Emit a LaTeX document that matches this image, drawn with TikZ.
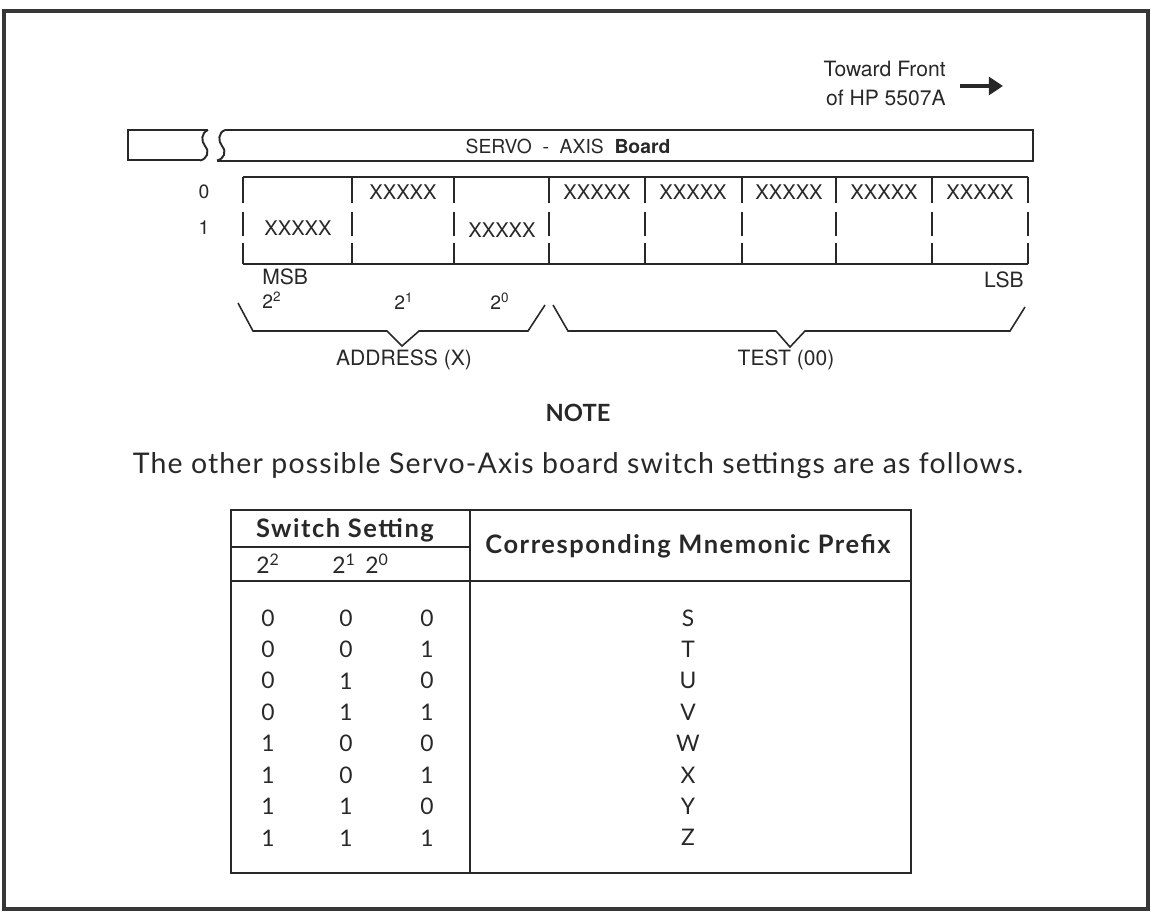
\documentclass[tikz,border=0pt]{standalone}
\usepackage{fontspec}
\setmainfont{Lato}
\setsansfont{TeX Gyre Heros}
\newfontfamily\widefont[LetterSpace=6]{Lato}
\newfontfamily\notefont[LetterSpace=4]{Lato}
\usetikzlibrary{arrows.meta}
\definecolor{inkgray}{RGB}{40,40,40}
\definecolor{framegray}{RGB}{55,55,55}

\begin{document}
\begin{tikzpicture}[x=0.02cm,y=-0.02cm,
  every node/.style={inner sep=0pt,text=inkgray},
  board/.style={draw=inkgray,line width=1.1pt},
  bracket/.style={draw=inkgray,line width=0.9pt},
  helv/.style={font=\sffamily\fontsize{11}{13}\selectfont},
  swtext/.style={font=\sffamily\fontsize{11.5}{13}\selectfont},
  tabtext/.style={font=\fontsize{13}{15}\selectfont},
  tabhead/.style={font=\widefont\bfseries\fontsize{14.5}{16}\selectfont}]
\useasboundingbox (0,0) rectangle (1151,912);
\draw[framegray,line width=1.8pt] (4,11) rectangle (1148,909);

% direction of the instrument
\node[font=\sffamily\fontsize{12}{16.5}\selectfont,align=right,anchor=east] (front) at (946,83)
  {Toward Front\\of HP 5507A};
\coordinate (arrowtail) at (960,86);
\coordinate (arrowtip) at (1003,86);
\draw[inkgray,line width=2.8pt,-{Triangle[length=8pt,width=10pt]}] (arrowtail) -- (arrowtip);

% the board, broken off at the left
\draw[board] (208,130) -- (128,130) -- (128,160) -- (200,160);
\foreach \bx in {204,221}
  \draw[board] (\bx+4,130) .. controls (\bx-3,133) and (\bx-3,141) .. (\bx+1,146)
    .. controls (\bx+6,152) and (\bx+3,159) .. (\bx-4,160.5);
\draw[board] (225,130) -- (1033,130) -- (1033,161) -- (217,161);
\node[helv] (boardname) at (568,146) {SERVO\ \ -\ \ AXIS\ \ \textbf{Board}};

% switch block
\draw[board] (243,177) -- (1028,177);
\draw[board] (243,264) -- (1028,264);
\foreach \x in {243,352,454,549,645,742,836,932,1028}
  \draw[board] (\x,177) -- (\x,203) (\x,212) -- (\x,236) (\x,243) -- (\x,264);
\node[helv] (row0) at (204,192) {0};
\node[helv] (row1) at (204,228) {1};
\foreach \c [count=\k] in {403,597,693,789,884,980}
  \node[swtext] (up\k) at (\c,192) {XXXXX};
\node[swtext] (down1) at (298,228) {XXXXX};
\node[swtext] (down2) at (502,230) {XXXXX};

\node[helv,font=\sffamily\fontsize{12}{14}\selectfont,anchor=west] (msb) at (262,277) {MSB};
\node[helv,font=\sffamily\fontsize{12}{14}\selectfont,anchor=east] (lsb) at (1024,280) {LSB};
\node[helv] (bit2) at (272,300) {2\textsuperscript{2}};
\node[helv] (bit1) at (404,301) {2\textsuperscript{1}};
\node[helv] (bit0) at (500,301) {2\textsuperscript{0}};

% brackets under the switches
\draw[bracket] (238,303) -- (253,331) -- (387,331) -- (402,346) -- (419,331) -- (528,331) -- (545,305);
\draw[bracket] (553,305) -- (568,331) -- (776,331) -- (790,347) -- (805,331) -- (1010,331) -- (1025,307);
\node[helv,font=\sffamily\fontsize{12}{14}\selectfont] (addr) at (404,360) {ADDRESS (X)};
\node[helv,font=\sffamily\fontsize{12}{14}\selectfont] (test) at (786,360) {TEST (00)};

% note and table
\node[font=\bfseries\fontsize{13.5}{16}\selectfont] (note) at (578,413) {NOTE};
\node[font=\notefont\fontsize{16.2}{19}\selectfont] (other) at (578,466)
  {The other possible Servo-Axis board switch settings are as follows.};

\draw[board] (231,510) rectangle (911,873);
\draw[board] (470,510) -- (470,873);
\draw[board] (231,581) -- (911,581);
\draw[board,line width=0.8pt] (231,547) -- (470,547);
\node[tabhead] (setting) at (345,530) {Switch Setting};
\node[tabhead] (prefix) at (688,546) {Corresponding Mnemonic Prefix};
\node[tabtext] (h2) at (268,564) {2\textsuperscript{2}};
\node[tabtext] (h1) at (344,564) {2\textsuperscript{1}};
\node[tabtext] (h0) at (377,564) {2\textsuperscript{0}};
\foreach \a/\b/\c/\m [count=\i from 0] in
  {0/0/0/S,0/0/1/T,0/1/0/U,0/1/1/V,1/0/0/W,1/0/1/X,1/1/0/Y,1/1/1/Z}
{
  \node[tabtext] (a\i) at (268,{618+31.4*\i}) {\a};
  \node[tabtext] (b\i) at (346,{618+31.4*\i}) {\b};
  \node[tabtext] (c\i) at (427,{618+31.4*\i}) {\c};
  \node[tabtext] (m\i) at (688,{618+31.4*\i}) {\m};
}
\end{tikzpicture}
\end{document}
